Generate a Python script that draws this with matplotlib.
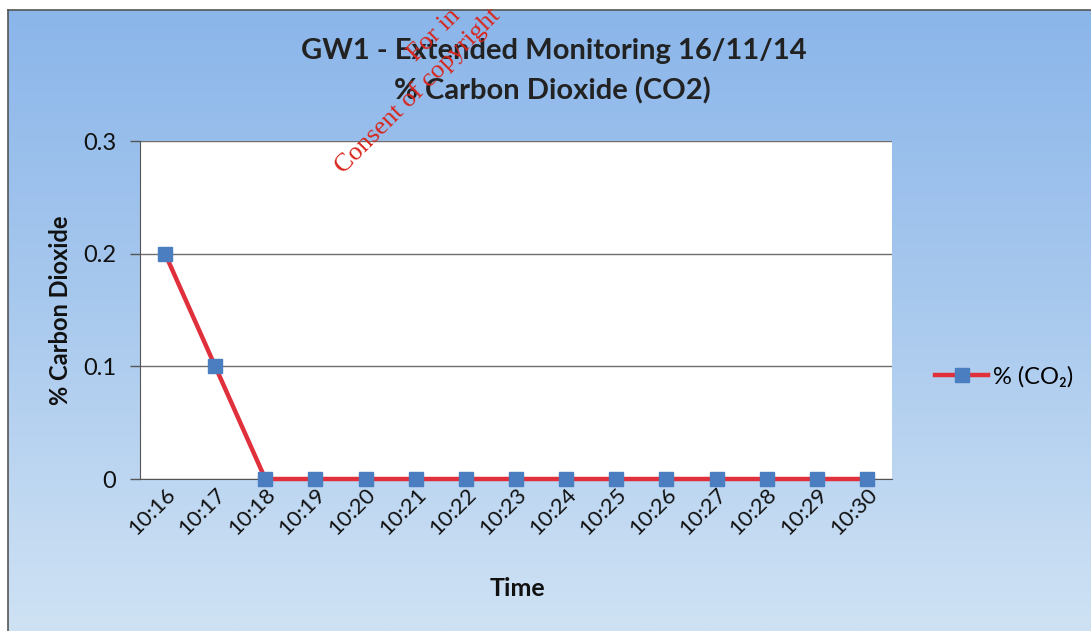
import numpy as np
import matplotlib
matplotlib.use("Agg")
import matplotlib.pyplot as plt
from matplotlib.colors import LinearSegmentedColormap

times = ["10:16", "10:17", "10:18", "10:19", "10:20", "10:21", "10:22", "10:23",
         "10:24", "10:25", "10:26", "10:27", "10:28", "10:29", "10:30"]
co2 = [0.2, 0.1, 0, 0, 0, 0, 0, 0, 0, 0, 0, 0, 0, 0, 0]
yticks = [0, 0.1, 0.2, 0.3]
ytick_labels = ["0", "0.1", "0.2", "0.3"]

FONT = ["Lato", "DejaVu Sans"]
plt.rcParams['font.family'] = FONT

W, H = 1091, 631
fig = plt.figure(figsize=(W / 100, H / 100), dpi=100)
fig.patch.set_facecolor("white")

# gradient background
bg = fig.add_axes([8 / W, 0, 1 - 8 / W, 1 - 10 / H])
cmap = LinearSegmentedColormap.from_list("bg", ["#8bb6ea", "#aacaee", "#cfe2f4"])
grad = np.linspace(0, 1, 256).reshape(-1, 1)
bg.imshow(grad, aspect="auto", cmap=cmap, extent=[0, 1, 0, 1], origin="upper")
bg.set_xlim(0, 1); bg.set_ylim(0, 1)
bg.set_xticks([]); bg.set_yticks([])
for side in ["left", "top"]:
    bg.spines[side].set_color("#555555")
    bg.spines[side].set_linewidth(1.2)
for side in ["right", "bottom"]:
    bg.spines[side].set_visible(False)

# plot area
left, right, top, bottom = 140, 892, 141, 479
ax = fig.add_axes([left / W, 1 - bottom / H, (right - left) / W, (bottom - top) / H])
ax.set_facecolor("white")
x = np.arange(len(times))
ax.plot(x, co2, color="#e0303c", linewidth=3.2, marker="s", markersize=10,
        markerfacecolor="#4a7ec0", markeredgecolor="#4a7ec0", label="% (CO₂)",
        zorder=3, clip_on=False)
ax.set_xlim(-0.5, len(times) - 0.5)
ax.set_ylim(0, 0.3)
ax.set_yticks(yticks)
ax.set_yticklabels(ytick_labels)
ax.set_xticks(x)
ax.set_xticklabels(times, rotation=45, ha="right", rotation_mode="anchor")
ax.tick_params(axis="x", length=0, pad=4, labelsize=16, colors="#111111")
ax.tick_params(axis="y", length=7, width=1, color="#555555", pad=10, labelsize=17,
               colors="#111111")
ax.grid(axis="y", color="#6e6e6e", linewidth=1)
ax.set_axisbelow(True)
ax.spines["right"].set_visible(False)
ax.spines["top"].set_visible(False)
ax.spines["left"].set_color("#555555")
ax.spines["bottom"].set_color("#555555")

fig.text(517 / W, 1 - 589 / H, "Time", ha="center", va="center",
         fontsize=18, fontweight="bold", color="#111111")
fig.text(60 / W, 1 - 310 / H, "% Carbon Dioxide", ha="center", va="center",
         rotation=90, fontsize=17, fontweight="bold", color="#111111")
fig.text(554 / W, 1 - 51 / H, "GW1 - Extended Monitoring 16/11/14", ha="center",
         va="center", fontsize=21, fontweight="bold", color="#222222")
fig.text(552 / W, 1 - 91 / H, "% Carbon Dioxide (CO2)", ha="center",
         va="center", fontsize=21, fontweight="bold", color="#222222")

leg = fig.legend(loc="center left", bbox_to_anchor=(935 / W, 1 - 377 / H),
                 frameon=False, fontsize=17, handlelength=2.25, handletextpad=0.2,
                 borderaxespad=0, borderpad=0)

# watermark (only the part visible in the reference)
wm = dict(color="#d8261c", fontsize=19, family=["Liberation Serif", "DejaVu Serif"],
          rotation=45, rotation_mode="anchor", ha="left", va="baseline")
fig.text(343 / W, 1 - 174 / H, "Consent of copyright", **wm)
fig.text(416 / W, 1 - 62 / H, "For in", **wm)

fig.savefig("out.png", dpi=100)
